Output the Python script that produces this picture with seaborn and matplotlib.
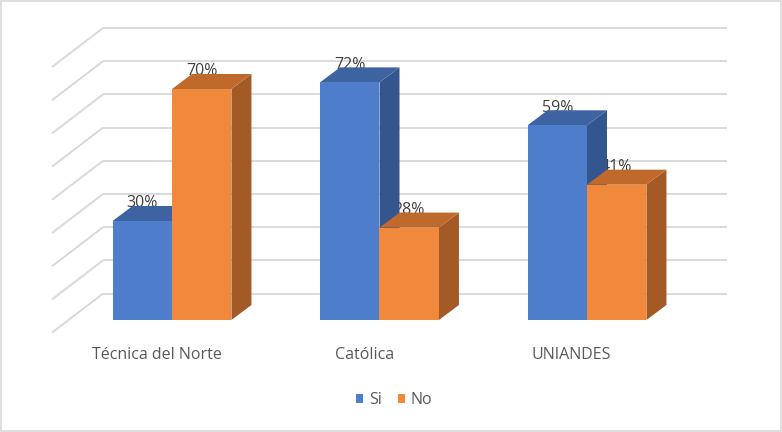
import matplotlib
matplotlib.use("Agg")
import matplotlib.pyplot as plt
from matplotlib.patches import Polygon, Rectangle
import pandas as pd
import seaborn as sns

# ---- data ----
universidades = ["Técnica del Norte", "Católica", "UNIANDES"]
respuestas = ["Si", "No"]
si_vals = [30, 72, 59]
no_vals = [70, 28, 41]
grid_ticks = [0, 10, 20, 30, 40, 50, 60, 70, 80]

df = pd.DataFrame({
    "Universidad": universidades * 2,
    "Respuesta": ["Si"] * len(si_vals) + ["No"] * len(no_vals),
    "Porcentaje": si_vals + no_vals,
})

# ---- style ----
BLUE, ORANGE = "#4E7DCB", "#F0893B"
TOPS = {BLUE: "#3E63A1", ORANGE: "#BF692D"}
SIDES = {BLUE: "#34568E", ORANGE: "#A35A25"}
GRID = "#D9D9D9"

sns.set_theme(style="white")
plt.rcParams["font.family"] = ["Open Sans", "DejaVu Sans"]

fig = plt.figure(figsize=(7.82, 4.32), dpi=100)
ax = fig.add_axes([0, 0, 1, 1])

sns.barplot(data=df, x="Universidad", y="Porcentaje", hue="Respuesta",
            order=universidades, hue_order=respuestas,
            palette=[BLUE, ORANGE], saturation=1, width=0.573,
            errorbar=None, linewidth=0, ax=ax)

ax.set_xlim(-0.8289, 2.9398)
ax.set_ylim(-33.94, 96.97)
ax.set_axis_off()

# 3D depth offsets (data units)
DX, DY = 0.0964, 4.55

# back wall gridlines + left wall diagonals
WALL_X0, WALL_X1, FRONT_X = -0.3325, 2.6747, -0.5783
for t in grid_ticks:
    vb = 8.0 + t * 1.006
    ax.plot([WALL_X0, WALL_X1], [vb, vb], color=GRID, lw=1.4, zorder=0.5,
            solid_capstyle="butt")
    ax.plot([WALL_X0, FRONT_X], [vb, vb - 11.82], color=GRID, lw=1.4,
            zorder=0.5, solid_capstyle="butt")

# 3D faces for each bar
for container in ax.containers:
    for bar in container:
        x0, w, h = bar.get_x(), bar.get_width(), bar.get_height()
        fc = matplotlib.colors.to_hex(bar.get_facecolor())
        key = BLUE if fc.lower() == BLUE.lower() else ORANGE
        z = 2 + x0
        bar.set_zorder(z + 0.02)
        side = Polygon([(x0 + w, 0), (x0 + w + DX, DY), (x0 + w + DX, h + DY),
                        (x0 + w, h)], closed=True, facecolor=SIDES[key],
                       edgecolor="none", zorder=z)
        top = Polygon([(x0, h), (x0 + w, h), (x0 + w + DX, h + DY),
                       (x0 + DX, h + DY)], closed=True, facecolor=TOPS[key],
                      edgecolor="none", zorder=z + 0.01)
        ax.add_patch(side)
        ax.add_patch(top)
        ax.text(x0 + w / 2, h + DY - 0.4, f"{int(round(h))}%", ha="center",
                va="baseline", fontsize=11.5, color="#404040", zorder=1)

# category labels (front floor, shifted by perspective)
for i, name in enumerate(universidades):
    ax.text(i - 0.074, -10.6, name, ha="center", va="center",
            fontsize=11.5, color="#595959", zorder=10)

sns.move_legend(ax, loc="center", bbox_to_anchor=(0.504, 0.074), ncol=2,
                frameon=False, title=None, fontsize=11.5, handlelength=0.45,
                handleheight=0.45, handletextpad=0.35, columnspacing=1.0,
                labelcolor="#595959")

fig.patches.append(Rectangle((1.0 / 782, 1.0 / 432), 1 - 2.0 / 782,
                             1 - 2.0 / 432, transform=fig.transFigure,
                             fill=False, edgecolor=GRID, lw=1.2))

fig.savefig("out.png", dpi=100)
